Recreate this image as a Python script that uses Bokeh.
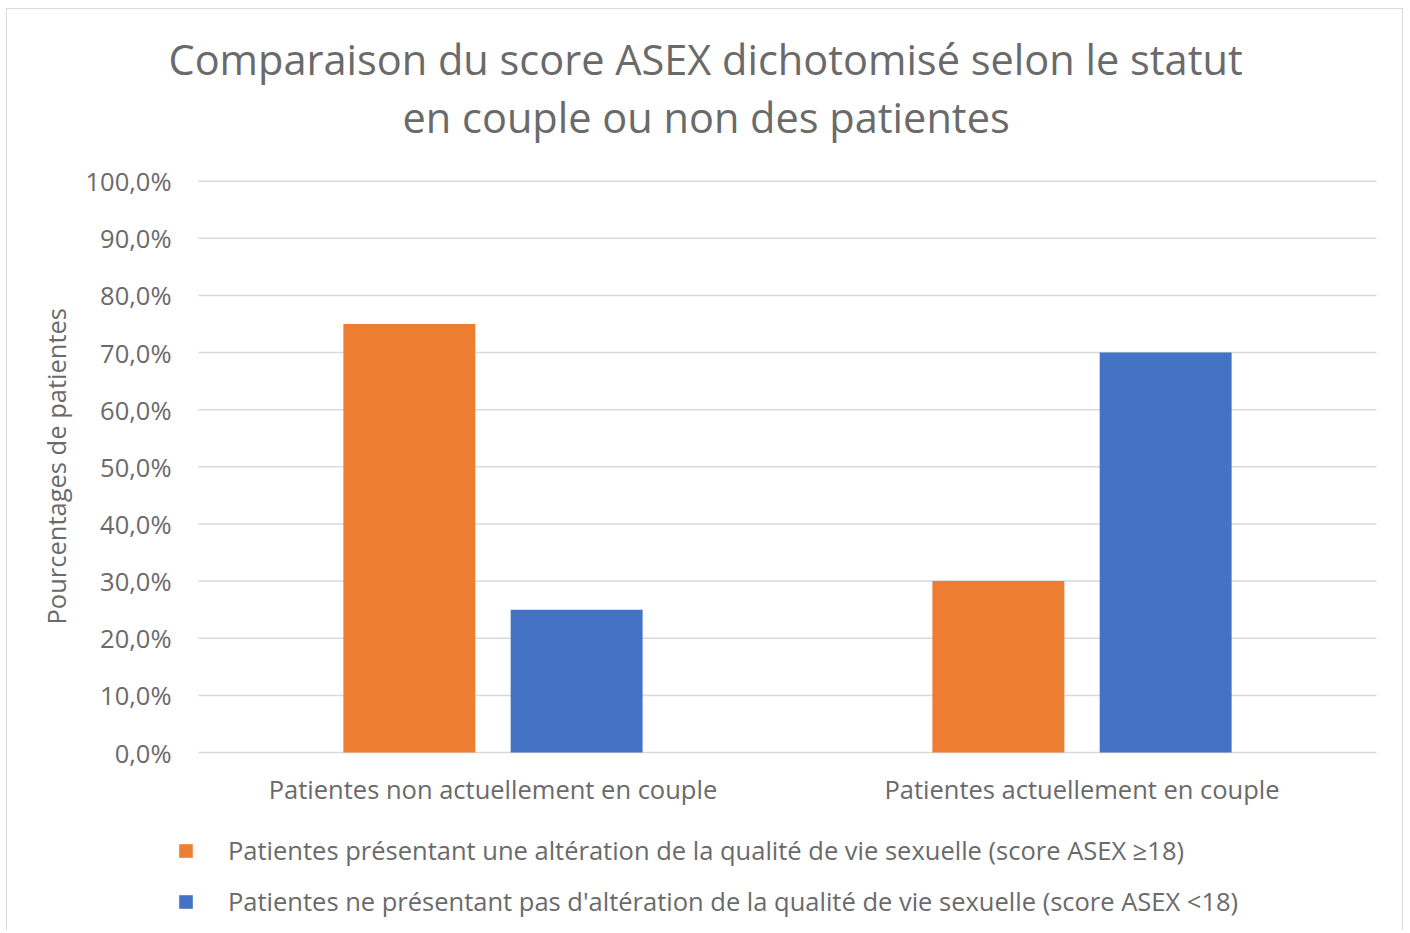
from bokeh.plotting import figure
from bokeh.models import (FactorRange, Range1d, FixedTicker, CustomJSTickFormatter,
                          Legend, LegendItem, Title, ColumnDataSource)
from bokeh.transform import dodge
from bokeh.embed import file_html
from bokeh.resources import INLINE

# ---- data ----
categories = ["Patientes non actuellement en couple", "Patientes actuellement en couple"]
altered = [75.0, 30.0]        # score ASEX >= 18
not_altered = [25.0, 70.0]    # score ASEX < 18
series_names = [
    "Patientes présentant une altération de la qualité de vie sexuelle (score ASEX \u226518)",
    "Patientes ne présentant pas d'altération de la qualité de vie sexuelle (score ASEX <18)",
]
y_ticks = [0, 10, 20, 30, 40, 50, 60, 70, 80, 90, 100]
title_lines = ["Comparaison du score ASEX dichotomisé selon le statut",
               "en couple ou non des patientes"]
y_label = "Pourcentages de patientes"

ORANGE = "#ED7D31"
BLUE = "#4472C4"
TXT = "#6A6A6A"
GRID = "#D9D9D9"
FONT = "Open Sans"

src = ColumnDataSource(dict(cat=categories, altered=altered, not_altered=not_altered))

W, H = 1397, 922
x_range = FactorRange(*categories, range_padding=0.039, range_padding_units="absolute")
# the frame also holds the legend area below the 0 line
y_range = Range1d(-31.33, 100.3)
p = figure(width=W, height=H, x_range=x_range, y_range=y_range,
           output_backend="svg", toolbar_location=None,
           min_border_left=168, min_border_right=5, min_border_top=170, min_border_bottom=0)
p.styles = {"border": "1px solid #D9D9D9", "border-bottom": "none",
            "margin-left": "6px", "margin-top": "8px"}
p.outline_line_color = None
p.background_fill_color = "white"
p.border_fill_color = "white"
p.title = None

# horizontal gridlines limited to the category span
n = len(categories)
grid_src = ColumnDataSource(dict(x0=[0] * len(y_ticks), x1=[n] * len(y_ticks), y=y_ticks))
p.segment(x0="x0", x1="x1", y0="y", y1="y", source=grid_src, line_color=GRID, line_width=1.5)

r1 = p.vbar(x=dodge("cat", -0.142, range=p.x_range), top="altered", width=0.224,
            source=src, fill_color=ORANGE, line_color=None)
r2 = p.vbar(x=dodge("cat", 0.142, range=p.x_range), top="not_altered", width=0.224,
            source=src, fill_color=BLUE, line_color=None)

# axes
p.xgrid.grid_line_color = None
p.ygrid.grid_line_color = None
p.yaxis.ticker = FixedTicker(ticks=y_ticks)
p.yaxis.formatter = CustomJSTickFormatter(code="return tick.toFixed(1).replace('.', ',') + '%';")
p.yaxis.axis_line_color = None
p.yaxis.major_tick_line_color = None
p.yaxis.minor_tick_line_color = None
p.yaxis.major_label_standoff = -2
p.yaxis.major_label_text_font = FONT
p.yaxis.major_label_text_font_size = "25.5px"
p.yaxis.major_label_text_color = TXT

# y-axis title, placed along the 0-100 span
p.add_layout(Title(text=y_label, align="left", offset=307, standoff=20,
                   text_font=FONT, text_font_size="25.5px", text_font_style="normal",
                   text_color=TXT), "left")

p.xaxis.fixed_location = 0
p.xaxis.axis_line_color = None
p.xaxis.major_tick_line_color = None
p.xaxis.minor_tick_line_color = None
p.xaxis.major_label_standoff = 13
p.xaxis.major_label_text_font = FONT
p.xaxis.major_label_text_font_size = "25.5px"
p.xaxis.major_label_text_color = TXT

# title: two lines (nearest to the frame added first)
p.add_layout(Title(text=title_lines[1], align="left", offset=227, standoff=70,
                   text_font=FONT, text_font_size="41.5px", text_font_style="normal",
                   text_color=TXT), "above")
p.add_layout(Title(text=title_lines[0], align="left", offset=-7, standoff=-70,
                   text_font=FONT, text_font_size="41.5px", text_font_style="normal",
                   text_color=TXT), "above")

legend = Legend(items=[LegendItem(label=series_names[0], renderers=[r1]),
                       LegendItem(label=series_names[1], renderers=[r2])],
                location=(2, 13), orientation="vertical",
                glyph_width=17, glyph_height=17, label_standoff=34, label_height=26,
                label_text_font=FONT, label_text_font_size="25.5px", label_text_color=TXT,
                spacing=17, padding=0, margin=0, border_line_color=None,
                background_fill_alpha=0)
p.add_layout(legend, "center")

open("out.html", "w").write(file_html(p, INLINE))
